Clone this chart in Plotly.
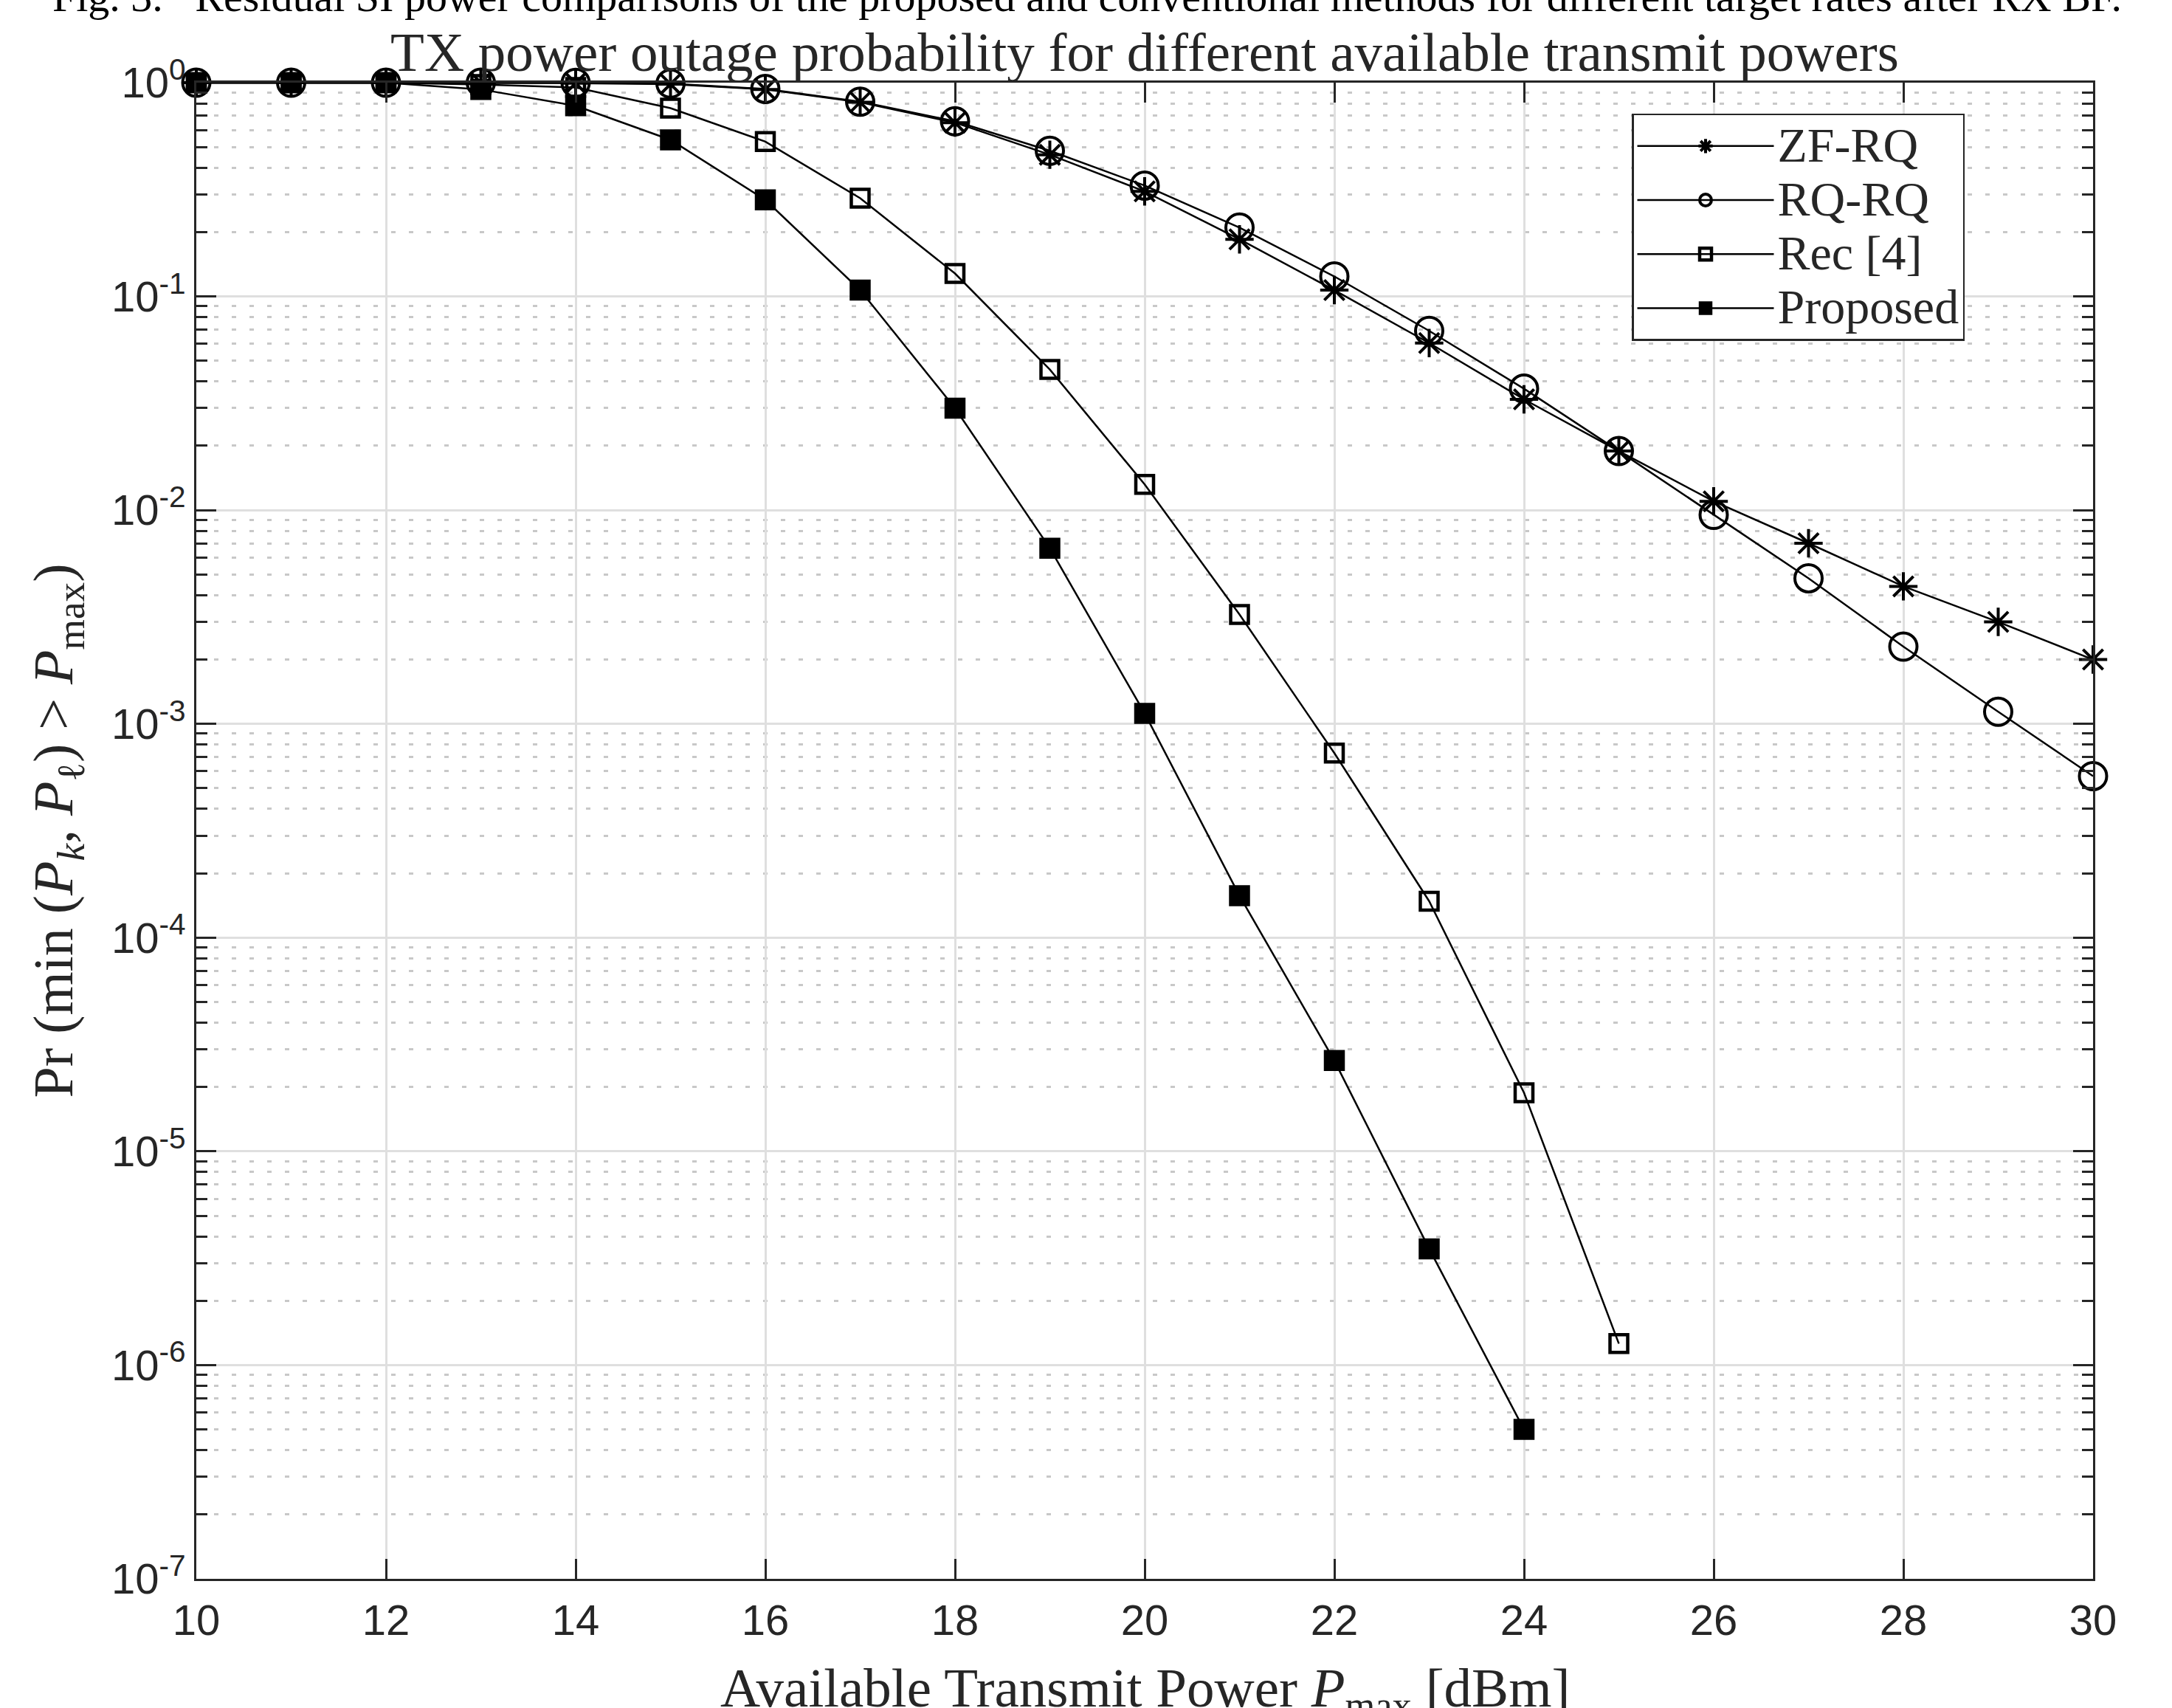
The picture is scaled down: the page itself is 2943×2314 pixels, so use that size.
import plotly.graph_objects as go

# ---------------- data ----------------
x_zf = list(range(10, 31))
zf_rq = [1, 1, 1, 1, 0.995, 0.985, 0.93, 0.81, 0.65, 0.46, 0.31, 0.185, 0.107,
         0.0605, 0.033, 0.0189, 0.011, 0.0070, 0.0044, 0.0030, 0.0020]

x_rq = list(range(10, 31))
rq_rq = [1, 1, 1, 1, 0.998, 0.99, 0.935, 0.815, 0.66, 0.48, 0.33, 0.21, 0.124,
         0.069, 0.037, 0.0189, 0.0095, 0.0048, 0.0023, 0.00114, 0.00057]

x_rec = list(range(10, 26))
rec4 = [1, 1, 1, 0.98, 0.95, 0.76, 0.53, 0.288, 0.128, 0.0455, 0.0132, 0.00325,
        0.00073, 0.000148, 1.88e-5, 1.26e-6]

x_prop = list(range(10, 25))
proposed = [1, 1, 1, 0.93, 0.78, 0.54, 0.283, 0.107, 0.030, 0.00664, 0.00112,
            0.000157, 2.66e-5, 3.5e-6, 5.0e-7]

series_names = ["ZF-RQ", "RQ-RQ", "Rec [4]", "Proposed"]

x_tickvals = [10, 12, 14, 16, 18, 20, 22, 24, 26, 28, 30]
y_tickvals = [1, 1e-1, 1e-2, 1e-3, 1e-4, 1e-5, 1e-6, 1e-7]
y_ticktext = ["10<sup>0</sup>", "10<sup>-1</sup>", "10<sup>-2</sup>", "10<sup>-3</sup>",
              "10<sup>-4</sup>", "10<sup>-5</sup>", "10<sup>-6</sup>", "10<sup>-7</sup>"]

title_text = "TX power outage probability for different available transmit powers"
caption_text = ("Fig. 3.   Residual SI power comparisons of the proposed and conventional "
                "methods for different target rates after RX BF.")
x_title = "Available Transmit Power <i>P</i><sub>max</sub> [dBm]"
y_title = "Pr (min (<i>P</i><sub><i>k</i></sub>, <i>P</i><sub>ℓ</sub>) > <i>P</i><sub>max</sub>)"

# ---------------- styling ----------------
W, H = 2943, 2314
ML, MR, MT, MB = 266, 107, 112, 175
PW, PH = W - ML - MR, H - MT - MB
AXC = "#262626"
SERIF = "Liberation Serif, Times New Roman, serif"
SANS = "Liberation Sans, Arial, Helvetica, sans-serif"
LEG_TXT = 66

def leg(name):
    return f'<span style="font-size:{LEG_TXT}px">{name}</span>'

fig = go.Figure()
styles = [
    (x_zf, zf_rq, dict(symbol="asterisk", size=32, color="black",
                       line=dict(color="black", width=4))),
    (x_rq, rq_rq, dict(symbol="circle-open", size=37, color="black",
                       line=dict(color="black", width=4))),
    (x_rec, rec4, dict(symbol="square-open", size=24, color="black",
                       line=dict(color="black", width=4.5))),
    (x_prop, proposed, dict(symbol="square", size=26, color="black",
                            line=dict(color="black", width=2.5))),
]
for (xs, ys, mk), name in zip(styles, series_names):
    fig.add_trace(go.Scatter(
        x=xs, y=ys, mode="lines+markers", name=leg(name),
        line=dict(color="black", width=2.5), marker=mk, cliponaxis=False,
    ))

fig.update_layout(
    width=W, height=H,
    margin=dict(l=ML, r=MR, t=MT, b=MB, autoexpand=False),
    paper_bgcolor="white", plot_bgcolor="white",
    title=dict(text=title_text, x=(ML + PW / 2) / W, xanchor="center",
               y=1 - 70 / H, yanchor="middle",
               font=dict(family=SERIF, size=75, color=AXC)),
    legend=dict(
        x=(2211 - ML) / PW, y=(2139.3 - 154) / PH,
        xanchor="left", yanchor="top",
        bgcolor="white", bordercolor=AXC, borderwidth=2.5,
        font=dict(family=SERIF, size=54, color=AXC),
        itemwidth=185, tracegroupgap=0,
    ),
    showlegend=True,
)

fig.update_xaxes(
    range=[10, 30], tickvals=x_tickvals, ticktext=[str(v) for v in x_tickvals],
    ticks="inside", ticklen=27, tickwidth=2.5, tickcolor=AXC, ticklabelstandoff=4,
    showline=True, linecolor=AXC, linewidth=2.5, mirror="allticks",
    showgrid=True, gridcolor="#dfdfdf", gridwidth=2.5, zeroline=False,
    automargin=False,
    tickfont=dict(family=SANS, size=58, color=AXC),
)
fig.update_yaxes(
    type="log", range=[-7, 0], tickvals=y_tickvals, ticktext=y_ticktext,
    ticks="inside", ticklen=27, tickwidth=2.5, tickcolor=AXC,
    showline=True, linecolor=AXC, linewidth=2.5, mirror="allticks",
    showgrid=True, gridcolor="#dfdfdf", gridwidth=2.5, zeroline=False,
    automargin=True,
    minor=dict(dtick="D1", ticks="inside", ticklen=15, tickwidth=2.5, tickcolor=AXC,
               showgrid=True, gridcolor="#c8c8c8", gridwidth=2.5, griddash="6px,18px"),
    tickfont=dict(family=SANS, size=58, color=AXC),
    title=dict(text=y_title, font=dict(family=SERIF, size=76, color=AXC), standoff=28),
)

# x-axis title (placed as an annotation so it sits low, partly cut like the reference)
fig.add_annotation(
    text=x_title, xref="paper", yref="paper",
    x=0.5, y=(2139.3 - 2243) / PH,
    xanchor="center", yanchor="top", showarrow=False,
    font=dict(family=SERIF, size=75, color=AXC),
)

fig.add_annotation(
    text=caption_text, xref="paper", yref="paper",
    x=(1473 - ML) / PW, y=(2139.3 - 30) / PH,
    xanchor="center", yanchor="bottom", showarrow=False,
    font=dict(family=SERIF, size=58, color="black"),
)

fig.write_html("out.html")
